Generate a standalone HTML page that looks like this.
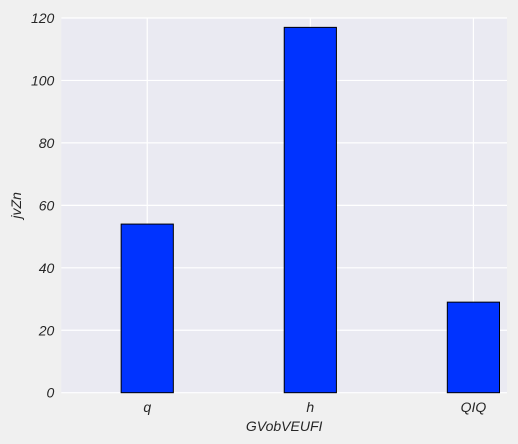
<!DOCTYPE html>
<html><head><meta charset="utf-8"><style>
html,body{margin:0;padding:0;background:#f0f0f0;}
svg{display:block;font-family:"Liberation Sans",sans-serif;font-style:italic;}
</style></head><body>
<svg width="518" height="444" viewBox="0 0 518 444">
<rect x="0" y="0" width="518" height="444" fill="#f0f0f0"/>
<g id="plot"></g>
</svg>
<script>
const categories = ["q", "h", "QIQ"];
const values = [54, 117, 29];
const yTicks = [0, 20, 40, 60, 80, 100, 120];
const xLabel = "GVobVEUFI";
const yLabel = "jvZn";

const L = 61.3, R = 507, T = 18, B = 392.7;
const xMin = -0.527, xMax = 2.206, yMin = 0, yMax = 120;
const barW = 0.32;
const sx = v => L + (v - xMin) / (xMax - xMin) * (R - L);
const sy = v => B - (v - yMin) / (yMax - yMin) * (B - T);
const NS = "http://www.w3.org/2000/svg";
const g = document.getElementById('plot');
function mk(tag, attrs) {
  const e = document.createElementNS(NS, tag);
  for (const k in attrs) e.setAttribute(k, attrs[k]);
  g.appendChild(e);
  return e;
}
const bg = mk('rect', {x: L, y: T, width: R - L, height: B - T, fill: '#eaeaf2'});


yTicks.forEach(t => {
  const ln = mk('line', {x1: L, x2: R, y1: sy(t), y2: sy(t), stroke: '#fff', 'stroke-width': 1.2});
  
  
  const tx = mk('text', {x: L - 7, y: sy(t) + 5, 'text-anchor': 'end', 'font-size': 14, fill: '#262626'});
  tx.textContent = t;
  
  
});
categories.forEach((c, i) => {
  const ln = mk('line', {x1: sx(i), x2: sx(i), y1: T, y2: B, stroke: '#fff', 'stroke-width': 1.2});
  
  
});
categories.forEach((c, i) => {
  const x0 = sx(i - barW / 2), x1 = sx(i + barW / 2);
  const b = mk('rect', {x: x0, y: sy(values[i]), width: x1 - x0, height: sy(0) - sy(values[i]), fill: '#0033ff', stroke: '#000', 'stroke-width': 1});
  
  
  const tx = mk('text', {x: sx(i), y: 412, 'text-anchor': 'middle', 'font-size': 14, fill: '#262626'});
  tx.textContent = c;
  
  
});
const xt = mk('text', {x: (L + R) / 2, y: 431, 'text-anchor': 'middle', 'font-size': 14, fill: '#262626'});
xt.textContent = xLabel;


const yt = mk('text', {x: 0, y: 0, 'text-anchor': 'middle', 'font-size': 14, fill: '#262626', transform: 'translate(21,' + ((T + B) / 2) + ') rotate(-90)'});
yt.textContent = yLabel;


</script>
</body></html>
